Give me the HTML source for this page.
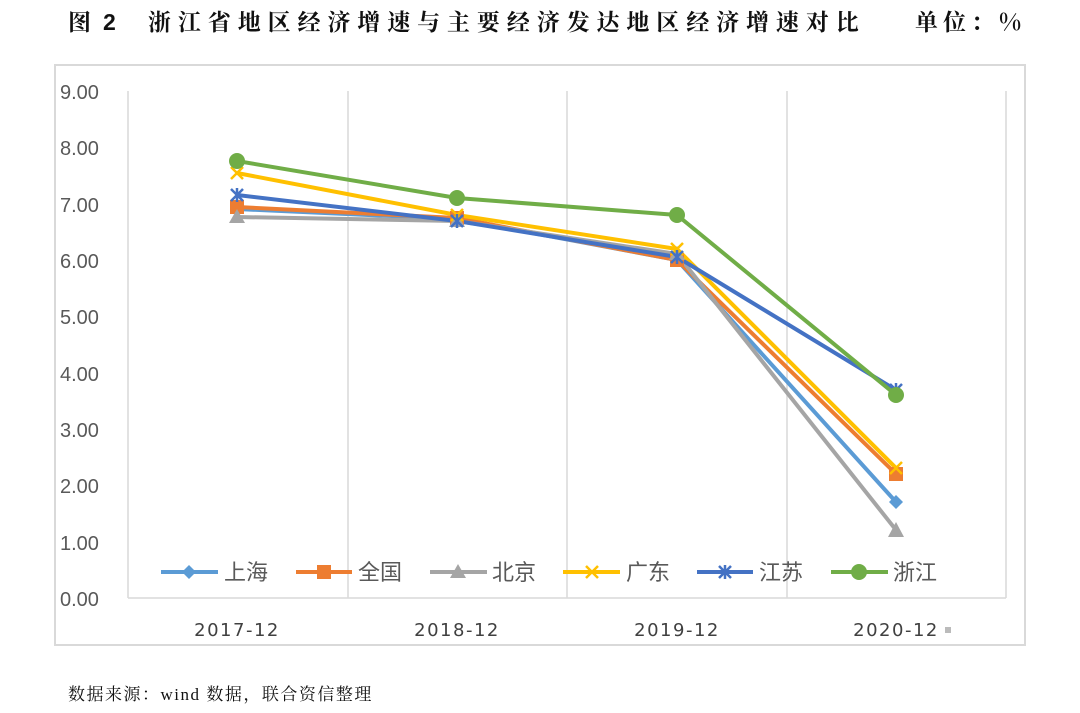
<!DOCTYPE html>
<html><head><meta charset="utf-8"><style>
body{margin:0;width:1080px;height:713px;background:#fff;overflow:hidden}
svg{display:block}
</style></head><body>
<svg width="1080" height="713" xmlns="http://www.w3.org/2000/svg">
<g font-family="'Noto Serif CJK SC','Liberation Serif',serif" font-size="23" fill="#111" font-weight="bold">
<text x="68" y="30">图</text>
<text x="103" y="30" font-family="'Liberation Sans',sans-serif">2</text>
<text x="148" y="30" letter-spacing="6.9">浙江省地区经济增速与主要经济发达地区经济增速对比</text>
<text x="915" y="30" letter-spacing="5">单位：%</text>
</g>
<rect x="55" y="65" width="970" height="580" fill="#fff" stroke="#d9d9d9" stroke-width="2"/>
<g stroke="#d9d9d9" stroke-width="1.5">
<line x1="128" y1="91" x2="128" y2="598"/><line x1="348" y1="91" x2="348" y2="598"/><line x1="567" y1="91" x2="567" y2="598"/><line x1="787" y1="91" x2="787" y2="598"/><line x1="1006" y1="91" x2="1006" y2="598"/>
<line x1="128" y1="598" x2="1006" y2="598"/>
</g>
<g font-family="'Liberation Sans','DejaVu Sans',sans-serif" font-size="20" fill="#595959">
<text x="60" y="99">9.00</text><text x="60" y="155">8.00</text><text x="60" y="212">7.00</text><text x="60" y="268">6.00</text><text x="60" y="324">5.00</text><text x="60" y="381">4.00</text><text x="60" y="437">3.00</text><text x="60" y="493">2.00</text><text x="60" y="550">1.00</text><text x="60" y="606">0.00</text>
</g>
<g font-family="'DejaVu Sans','Liberation Sans',sans-serif" font-size="18" fill="#404040" text-anchor="middle" letter-spacing="1.5">
<text x="237" y="636">2017-12</text><text x="457" y="636">2018-12</text><text x="677" y="636">2019-12</text><text x="896" y="636">2020-12</text>
</g>
<rect x="945" y="627" width="6" height="6" fill="#bbb"/>
<g fill="none" stroke-width="4" stroke-linejoin="round">
<polyline stroke="#5b9bd5" points="237,209 457,219 677,260 896,502"/>
<polyline stroke="#ed7d31" points="237,207 457,218 677,260 896,474"/>
<polyline stroke="#a5a5a5" points="237,217 457,221 677,254 896,530"/>
<polyline stroke="#ffc000" points="237,173 457,215 677,249 896,468"/>
<polyline stroke="#4472c4" points="237,195 457,221 677,257 896,390"/>
<polyline stroke="#70ad47" points="237,161 457,198 677,215 896,395"/>
</g>
<g fill="#5b9bd5"><polygon points="237,202 244,209 237,216 230,209"/><polygon points="457,212 464,219 457,226 450,219"/><polygon points="677,253 684,260 677,267 670,260"/><polygon points="896,495 903,502 896,509 889,502"/></g>
<g fill="#ed7d31"><rect x="230" y="200" width="14" height="14"/><rect x="450" y="211" width="14" height="14"/><rect x="670" y="253" width="14" height="14"/><rect x="889" y="467" width="14" height="14"/></g>
<g fill="#a5a5a5"><polygon points="237,209 245,223 229,223"/><polygon points="457,213 465,227 449,227"/><polygon points="677,246 685,260 669,260"/><polygon points="896,522 904,537 888,537"/></g>
<g stroke="#ffc000" stroke-width="2.5"><path d="M231 167l12 12M243 167l-12 12M451 209l12 12M463 209l-12 12M671 243l12 12M683 243l-12 12M890 462l12 12M902 462l-12 12"/></g>
<g stroke="#4472c4" stroke-width="2.5"><path d="M231 189l12 12M243 189l-12 12M237 188v14M451 215l12 12M463 215l-12 12M457 214v14M671 251l12 12M683 251l-12 12M677 250v14M890 384l12 12M902 384l-12 12M896 383v14"/></g>
<g fill="#70ad47"><circle cx="237" cy="161" r="8"/><circle cx="457" cy="198" r="8"/><circle cx="677" cy="215" r="8"/><circle cx="896" cy="395" r="8"/></g>
<g stroke-width="4">
<line x1="161" y1="572" x2="218" y2="572" stroke="#5b9bd5"/><line x1="296" y1="572" x2="352" y2="572" stroke="#ed7d31"/><line x1="430" y1="572" x2="487" y2="572" stroke="#a5a5a5"/><line x1="563" y1="572" x2="620" y2="572" stroke="#ffc000"/><line x1="697" y1="572" x2="753" y2="572" stroke="#4472c4"/><line x1="831" y1="572" x2="888" y2="572" stroke="#70ad47"/>
</g>
<polygon points="189,565 196,572 189,579 182,572" fill="#5b9bd5"/>
<rect x="317" y="565" width="14" height="14" fill="#ed7d31"/>
<polygon points="458,564 466,578 450,578" fill="#a5a5a5"/>
<path d="M586 566l12 12M598 566l-12 12" stroke="#ffc000" stroke-width="2.5"/>
<path d="M719 566l12 12M731 566l-12 12M725 565v14" stroke="#4472c4" stroke-width="2.5"/>
<circle cx="859" cy="572" r="8" fill="#70ad47"/>
<g font-family="'Liberation Sans','Noto Sans CJK SC',sans-serif" font-size="22" fill="#595959">
<text x="224" y="580">上海</text><text x="358" y="580">全国</text><text x="492" y="580">北京</text><text x="626" y="580">广东</text><text x="759" y="580">江苏</text><text x="893" y="580">浙江</text>
</g>
<text x="68" y="700" font-family="'Noto Serif CJK SC','Liberation Serif',serif" font-size="17" fill="#111" letter-spacing="1.5">数据来源：<tspan font-family="'Liberation Serif',serif">wind</tspan> 数据，联合资信整理</text>
</svg>
</body></html>
